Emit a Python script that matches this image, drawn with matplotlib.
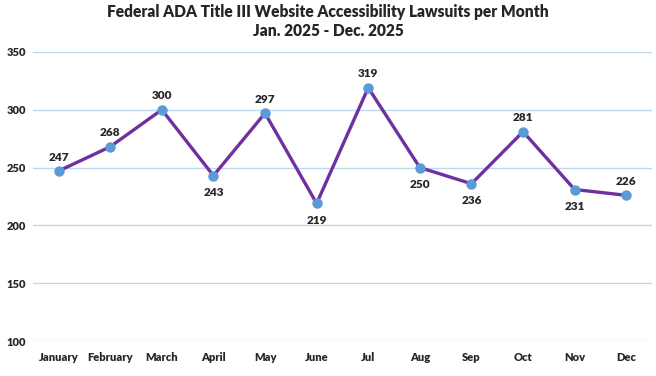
import matplotlib.pyplot as plt
import numpy as np

months = ["January", "February", "March", "April", "May", "June",
          "Jul", "Aug", "Sep", "Oct", "Nov", "Dec"]
lawsuits = [247, 268, 300, 243, 297, 219, 319, 250, 236, 281, 231, 226]
label_below = [False, False, False, True, False, True, False, True, True, False, True, False]
y_ticks = [100, 150, 200, 250, 300, 350]

plt.rcParams["font.family"] = ["Lato", "DejaVu Sans"]
plt.rcParams["font.weight"] = "heavy"

fig = plt.figure(figsize=(6.56, 3.76), dpi=100)
ax = fig.add_axes([0.050, 0.093, 0.944, 0.769])

x = np.arange(len(months))
for t in y_ticks[1:]:
    ax.axhline(t, color="#BDD7EE", lw=1.0, zorder=0)
ax.axhline(100, color="#D9D9D9", lw=1.0, zorder=0)

ax.plot(x, lawsuits, color="#7030A0", lw=2.4, zorder=2)
ax.plot(x, lawsuits, "o", color="#5B9BD5", ms=6.5, zorder=3)

for xi, v, below in zip(x, lawsuits, label_below):
    if below:
        ax.annotate(str(v), (xi, v), xytext=(0, -8), textcoords="offset points",
                    ha="center", va="top", fontsize=8.5, fontweight="heavy", color="#262626")
    else:
        ax.annotate(str(v), (xi, v), xytext=(0, 6), textcoords="offset points",
                    ha="center", va="bottom", fontsize=8.5, fontweight="heavy", color="#262626")

ax.set_xlim(-0.5, len(months) - 0.5)
ax.set_ylim(100, 350)
ax.set_yticks(y_ticks)
ax.set_xticks(x)
ax.set_xticklabels(months)
for spine in ax.spines.values():
    spine.set_visible(False)
ax.tick_params(axis="both", length=0, labelsize=8, labelcolor="#262626")
ax.tick_params(axis="x", pad=8)
ax.tick_params(axis="y", pad=5)
for lbl in ax.get_xticklabels() + ax.get_yticklabels():
    lbl.set_fontweight("heavy")

fig.text(0.5, 0.968, "Federal ADA Title III Website Accessibility Lawsuits per Month",
         ha="center", va="center", fontsize=11.2, fontweight="heavy", color="#262626")
fig.text(0.5, 0.918, "Jan. 2025 - Dec. 2025",
         ha="center", va="center", fontsize=11.2, fontweight="heavy", color="#262626")

fig.savefig("out.png", dpi=100)
